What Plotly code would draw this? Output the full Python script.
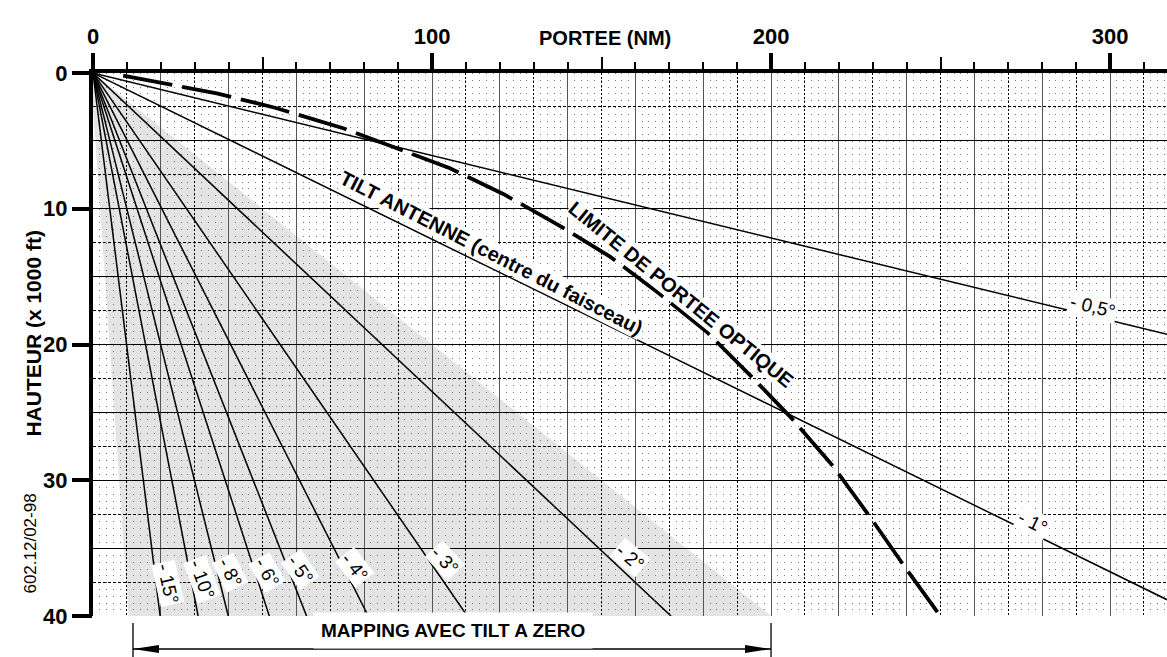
import plotly.graph_objects as go

# ---- axes ----
RANGE_MAX = 316.8      # NM
HEIGHT_MAX = 40        # x 1000 ft

# ---- beam tilt lines (each runs from the aircraft at 0/0 to its end point) ----
tilt_labels = ["- 0,5°", "- 1°", "- 2°", "- 3°", "- 4°", "- 5°", "- 6°", "- 8°", "- 10°", "- 15°"]
tilt_end_range = [316.8, 316.8, 170.5, 110.4, 81.2, 63.0, 52.0, 39.9, 31.0, 19.8]
tilt_end_height = [19.25, 38.8, 40, 40, 40, 40, 40, 40, 40, 40]

# label anchor (range, height) and text angle for each tilt line
tilt_label_range = [295.0, 277.3, 158.4, 103.8, 77.3, 61.1, 51.3, 40.4, 32.2, 22.1]
tilt_label_height = [17.2, 33.1, 35.7, 35.9, 36.4, 36.6, 36.8, 36.8, 37.3, 37.6]
tilt_label_angle = [14, 26, 40, 47, 52, 55, 60, 63, 70, 77]

# ---- optical range limit ----
optical_range = [8.9, 18.8, 36.5, 53.7, 73.8, 105.3, 121.0, 137.3, 152.5, 166.8,
                 181.0, 193.8, 206.1, 218.4, 229.2, 239.5, 249.9]
optical_height = [0.2, 0.69, 1.5, 2.56, 4.07, 7.02, 8.91, 11.2, 13.53, 16.2,
                  19.06, 22.25, 25.44, 29.0, 32.7, 36.4, 40.0]

# ---- zero-tilt mapping area ----
mapping_area_range = [0, 0, 10.5, 200]
mapping_area_height = [0, 2.5, 40, 40]
mapping_start, mapping_end = 11.8, 200

FONT = "Liberation Sans, Arial, Helvetica, sans-serif"

fig = go.Figure()

for lab, xr, yh in zip(tilt_labels, tilt_end_range, tilt_end_height):
    fig.add_trace(go.Scatter(x=[0, xr], y=[0, yh], mode="lines",
                             line=dict(color="black", width=1.5),
                             hoverinfo="skip", name=lab))

fig.add_trace(go.Scatter(x=optical_range, y=optical_height, mode="lines",
                         line=dict(color="black", width=3.8, dash="50px,10px"),
                         hoverinfo="skip", name="limite"))

# empty traces so the overlay axes get their subplots
for xa, ya in [("x2", "y"), ("x3", "y"), ("x4", "y"), ("x", "y2"), ("x", "y3")]:
    fig.add_trace(go.Scatter(x=[], y=[], xaxis=xa, yaxis=ya, showlegend=False))

# grey mapping region, below the grid
path = "M " + " L ".join(f"{x},{y}" for x, y in zip(mapping_area_range, mapping_area_height)) + " Z"
shapes = [dict(type="path", path=path, xref="x", yref="y", layer="below",
               fillcolor="#e4e4e4", line=dict(width=0))]

# mapping arrow under the chart
arrow_y = -0.0608
shapes.append(dict(type="line", xref="x", yref="paper", x0=mapping_start, x1=mapping_end,
                   y0=arrow_y, y1=arrow_y, line=dict(color="black", width=1.3)))
for xv in (mapping_start, mapping_end):
    shapes.append(dict(type="line", xref="x", yref="paper", x0=xv, x1=xv,
                       y0=-0.0129, y1=-0.0756, line=dict(color="black", width=1.3)))
shapes.append(dict(type="path", xref="x", yref="paper", xsizemode="pixel", ysizemode="pixel",
                   xanchor=mapping_start, yanchor=arrow_y, path="M0,0 L26,4 L26,-4 Z",
                   fillcolor="black", line=dict(width=0)))
shapes.append(dict(type="path", xref="x", yref="paper", xsizemode="pixel", ysizemode="pixel",
                   xanchor=mapping_end, yanchor=arrow_y, path="M0,0 L-26,4 L-26,-4 Z",
                   fillcolor="black", line=dict(width=0)))

annotations = []
for lab, xr, yh, ang in zip(tilt_labels, tilt_label_range, tilt_label_height, tilt_label_angle):
    annotations.append(dict(x=xr, y=yh, xref="x", yref="y", text=lab, showarrow=False,
                            textangle=ang, bgcolor="white", borderpad=1,
                            font=dict(family=FONT, size=19, color="black")))

annotations += [
    dict(x=117.6, y=13.26, xref="x", yref="y", text="TILT ANTENNE (centre du faisceau)",
         showarrow=False, textangle=27, bgcolor="white", borderpad=0,
         font=dict(family=FONT, size=20, color="black", weight="bold")),
    dict(x=173.3, y=16.3, xref="x", yref="y", text="LIMITE DE PORTEE OPTIQUE",
         showarrow=False, textangle=39, bgcolor="white", borderpad=0,
         font=dict(family=FONT, size=20, color="black", weight="bold")),
    dict(x=106.2, y=arrow_y, xref="x", yref="paper", text="MAPPING AVEC TILT A ZERO",
         showarrow=False, bgcolor="white", borderpad=7,
         font=dict(family=FONT, size=19, color="black", weight="bold")),
    dict(x=0.4764, y=1.0884, xref="paper", yref="paper", text="PORTEE (NM)",
         showarrow=False, font=dict(family=FONT, size=20, color="black", weight="bold")),
    dict(x=-0.068, y=0.521, xref="paper", yref="paper", text="HAUTEUR (x 1000 ft)",
         showarrow=False, textangle=-90,
         font=dict(family=FONT, size=21, color="black", weight="bold")),
    dict(x=-0.0698, y=0.0368, xref="paper", yref="paper", text="602.12/02-98",
         showarrow=False, textangle=-90,
         font=dict(family=FONT, size=17, color="black")),
]

xr = [0, RANGE_MAX]
yr = [HEIGHT_MAX, 0]
tickfont = dict(family=FONT, size=22, color="black", weight="bold")

fig.update_layout(
    width=1167, height=657,
    margin=dict(l=93, r=0, t=73, b=41),
    plot_bgcolor="white", paper_bgcolor="white",
    showlegend=False,
    xaxis=dict(range=xr, side="top", tickmode="linear", tick0=0, dtick=20,
               showgrid=True, gridcolor="#555", gridwidth=1.2,
               showticklabels=False, ticks="", zeroline=False,
               showline=True, linewidth=3.6, linecolor="black",
               minor=dict(dtick=2, tick0=0, showgrid=True, gridcolor="#777",
                          gridwidth=1, griddash="1px,5.79px")),
    xaxis2=dict(range=xr, overlaying="x", side="top", anchor="y",
                tickmode="linear", tick0=10, dtick=20,
                showgrid=True, gridcolor="black", gridwidth=1, griddash="2px,2px",
                showticklabels=False, ticks="", zeroline=False, showline=False),
    xaxis3=dict(range=xr, overlaying="x", side="top", anchor="y",
                tickmode="linear", tick0=0, dtick=100,
                ticks="outside", ticklen=19, tickwidth=4, tickcolor="black",
                showgrid=False, zeroline=False, showline=False,
                showticklabels=True, tickfont=tickfont,
                minor=dict(dtick=10, tick0=0, ticks="outside", ticklen=10,
                           tickwidth=1.5, tickcolor="black", showgrid=False)),
    xaxis4=dict(range=xr, overlaying="x", side="top", anchor="y",
                tickmode="linear", tick0=50, dtick=100,
                ticks="outside", ticklen=15, tickwidth=1.5, tickcolor="black",
                showgrid=False, zeroline=False, showline=False, showticklabels=False),
    yaxis=dict(range=yr, tickmode="linear", tick0=0, dtick=5,
               showgrid=True, gridcolor="black", gridwidth=1,
               showticklabels=False, ticks="", zeroline=False,
               showline=True, linewidth=3.6, linecolor="black"),
    yaxis2=dict(range=yr, overlaying="y", side="left", anchor="x",
                tickmode="linear", tick0=2.5, dtick=5,
                showgrid=True, gridcolor="black", gridwidth=1, griddash="3px,2px",
                showticklabels=False, ticks="", zeroline=False, showline=False),
    yaxis3=dict(range=yr, overlaying="y", side="left", anchor="x",
                tickmode="linear", tick0=0, dtick=10,
                ticks="outside", ticklen=20, tickwidth=4, tickcolor="black",
                showgrid=False, zeroline=False, showline=False,
                showticklabels=True, tickfont=tickfont),
    shapes=shapes,
    annotations=annotations,
)

fig.write_html("out.html")
